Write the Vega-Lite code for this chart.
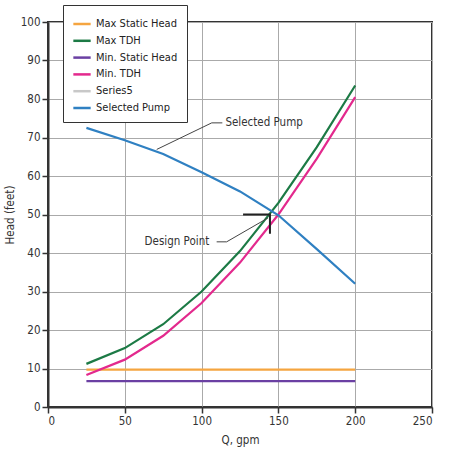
{
  "$schema": "https://vega.github.io/schema/vega-lite/v6.json",
  "width": 384,
  "height": 385,
  "autosize": "none",
  "padding": {"left": 48, "top": 22, "right": 18, "bottom": 43},
  "background": "white",
  "config": {
    "font": "DejaVu Sans Condensed",
    "view": {"stroke": "#333333", "strokeWidth": 2},
    "axis": {
      "labelFont": "DejaVu Sans Condensed",
      "labelFontSize": 11.5,
      "labelColor": "#333333",
      "titleFont": "DejaVu Sans Condensed",
      "titleFontSize": 11.5,
      "titleFontWeight": "normal",
      "titleColor": "#333333",
      "domainColor": "#333333",
      "domainWidth": 2,
      "tickColor": "#333333",
      "tickWidth": 1.5,
      "tickSize": 6,
      "gridColor": "#aaaaaa",
      "gridWidth": 1
    }
  },
  "datasets": {
    "curves": [
      {"Q": 25, "Series": "Max Static Head", "Head": 9.7},
      {"Q": 50, "Series": "Max Static Head", "Head": 9.7},
      {"Q": 100, "Series": "Max Static Head", "Head": 9.7},
      {"Q": 150, "Series": "Max Static Head", "Head": 9.7},
      {"Q": 200, "Series": "Max Static Head", "Head": 9.7},
      {"Q": 25, "Series": "Max TDH", "Head": 11.2},
      {"Q": 50, "Series": "Max TDH", "Head": 15.3},
      {"Q": 75, "Series": "Max TDH", "Head": 21.5},
      {"Q": 100, "Series": "Max TDH", "Head": 30},
      {"Q": 125, "Series": "Max TDH", "Head": 40.5},
      {"Q": 150, "Series": "Max TDH", "Head": 53},
      {"Q": 175, "Series": "Max TDH", "Head": 67.5},
      {"Q": 200, "Series": "Max TDH", "Head": 83.5},
      {"Q": 25, "Series": "Min. Static Head", "Head": 6.7},
      {"Q": 50, "Series": "Min. Static Head", "Head": 6.7},
      {"Q": 100, "Series": "Min. Static Head", "Head": 6.7},
      {"Q": 150, "Series": "Min. Static Head", "Head": 6.7},
      {"Q": 200, "Series": "Min. Static Head", "Head": 6.7},
      {"Q": 25, "Series": "Min. TDH", "Head": 8.3},
      {"Q": 50, "Series": "Min. TDH", "Head": 12.3},
      {"Q": 75, "Series": "Min. TDH", "Head": 18.5},
      {"Q": 100, "Series": "Min. TDH", "Head": 27},
      {"Q": 125, "Series": "Min. TDH", "Head": 37.5},
      {"Q": 150, "Series": "Min. TDH", "Head": 50},
      {"Q": 175, "Series": "Min. TDH", "Head": 64.5},
      {"Q": 200, "Series": "Min. TDH", "Head": 80.5},
      {"Q": 25, "Series": "Selected Pump", "Head": 72.5},
      {"Q": 50, "Series": "Selected Pump", "Head": 69.3},
      {"Q": 75, "Series": "Selected Pump", "Head": 65.7},
      {"Q": 100, "Series": "Selected Pump", "Head": 61},
      {"Q": 125, "Series": "Selected Pump", "Head": 56},
      {"Q": 150, "Series": "Selected Pump", "Head": 49.8},
      {"Q": 175, "Series": "Selected Pump", "Head": 41},
      {"Q": 200, "Series": "Selected Pump", "Head": 32}
    ],
    "leaders": [
      {"id": "pump", "order": 1, "Q": 113.5, "Head": 73.8},
      {"id": "pump", "order": 2, "Q": 106.6, "Head": 73.8},
      {"id": "pump", "order": 3, "Q": 70.8, "Head": 66.9},
      {"id": "design", "order": 1, "Q": 109.8, "Head": 42.9},
      {"id": "design", "order": 2, "Q": 116.3, "Head": 42.9},
      {"id": "design", "order": 3, "Q": 143.2, "Head": 49.1}
    ],
    "marker": [
      {"order": 1, "Q": 127, "Head": 50},
      {"order": 2, "Q": 144.5, "Head": 50},
      {"order": 3, "Q": 144.5, "Head": 45}
    ],
    "labels": [
      {"text": "Selected Pump", "Q": 115.5, "Head": 73.8, "side": "left"},
      {"text": "Design Point", "Q": 105, "Head": 42.9, "side": "right"}
    ]
  },
  "encoding": {
    "x": {
      "field": "Q", "type": "quantitative",
      "scale": {"domain": [0, 250]},
      "axis": {"title": "Q, gpm", "values": [0, 50, 100, 150, 200, 250], "titlePadding": 8}
    },
    "y": {
      "field": "Head", "type": "quantitative",
      "scale": {"domain": [0, 100]},
      "axis": {"title": "Head (feet)", "values": [0, 10, 20, 30, 40, 50, 60, 70, 80, 90, 100], "titlePadding": 5, "labelOverlap": false}
    }
  },
  "layer": [
    {
      "data": {"name": "curves"},
      "mark": {"type": "line", "strokeWidth": 2.2},
      "encoding": {
        "color": {
          "field": "Series", "type": "nominal",
          "scale": {
            "domain": ["Max Static Head", "Max TDH", "Min. Static Head", "Min. TDH", "Series5", "Selected Pump"],
            "range": ["#f5a540", "#1c7a45", "#6b40a3", "#e3298d", "#c8c8c8", "#2f80c2"]
          },
          "legend": {
            "title": null,
            "orient": "none",
            "legendX": 15,
            "legendY": -17,
            "symbolType": "stroke",
            "symbolStrokeWidth": 2.5,
            "symbolSize": 300,
            "labelFont": "DejaVu Sans Condensed",
            "labelFontSize": 11,
            "labelColor": "#222222",
            "rowPadding": 1.8,
            "strokeColor": "#333333",
            "fillColor": "white",
            "padding": 9
          }
        }
      }
    },
    {
      "data": {"name": "leaders"},
      "mark": {"type": "line", "color": "#444444", "strokeWidth": 1},
      "encoding": {
        "detail": {"field": "id"},
        "order": {"field": "order"}
      }
    },
    {
      "data": {"name": "marker"},
      "mark": {"type": "line", "color": "#222222", "strokeWidth": 2},
      "encoding": {
        "order": {"field": "order"}
      }
    },
    {
      "data": {"name": "labels"},
      "transform": [{"filter": "datum.side == 'left'"}],
      "mark": {"type": "text", "align": "left", "baseline": "middle", "fontSize": 11.5, "color": "#333333", "font": "DejaVu Sans Condensed"},
      "encoding": {
        "text": {"field": "text"}
      }
    },
    {
      "data": {"name": "labels"},
      "transform": [{"filter": "datum.side == 'right'"}],
      "mark": {"type": "text", "align": "right", "baseline": "middle", "fontSize": 11.5, "color": "#333333", "font": "DejaVu Sans Condensed"},
      "encoding": {
        "text": {"field": "text"}
      }
    }
  ]
}
